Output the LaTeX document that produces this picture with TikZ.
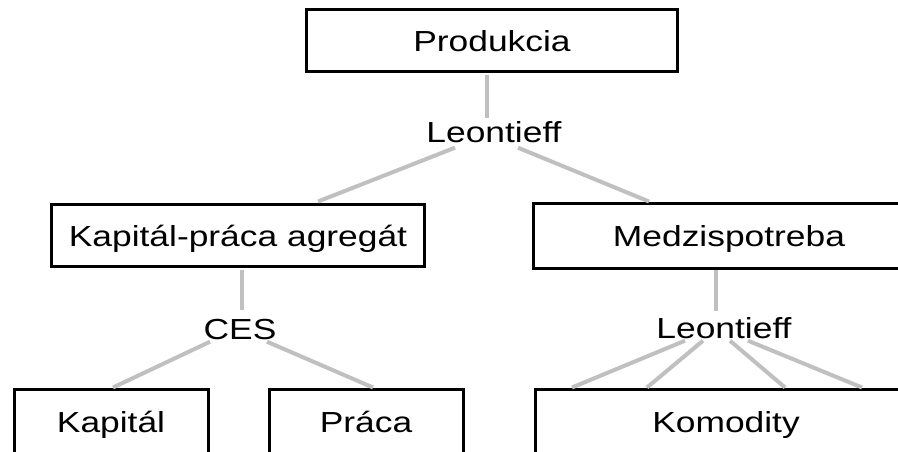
\documentclass[tikz,border=0pt]{standalone}
\usepackage{fontspec}
\setmainfont{Liberation Sans}[FakeStretch=1.22]
\usetikzlibrary{calc}
\definecolor{connc}{RGB}{192,192,192}
\tikzset{
  box/.style={draw=black, line width=3pt, fill=white, inner sep=0pt,
    minimum height=62pt, text height=21pt, text depth=0pt,
    font=\fontsize{29}{34}\selectfont},
  openbox/.style={box, draw=none},
  border/.style={draw=black, line width=3pt, line join=miter},
  lbl/.style={inner sep=0pt, text height=21pt, text depth=0pt,
    font=\fontsize{29}{34}\selectfont},
  conn/.style={draw=connc, line width=4pt}
}
\begin{document}
\begin{tikzpicture}[x=1pt,y=-1pt]
\useasboundingbox[fill=white] (0,0) rectangle (898,451);
\clip (0,0) rectangle (898,451);
\coordinate (R) at (899,0);
\coordinate (B) at (0,452);
% nodes
\node[box, minimum width=371pt] (prod) at (492,40.5) {Produkcia};
\node[lbl] (leo1) at (494,132) {Leontieff};
\node[box, minimum width=373pt] (kpa) at (238,235.5) {Kapitál-práca agregát};
\node[openbox, minimum width=389pt] (med) at (729,235.5) {Medzispotreba};
\node[lbl] (ces) at (240,329) {CES};
\node[lbl] (leo2) at (724,328) {Leontieff};
\node[openbox, minimum width=191pt] (kap) at (111,421.5) {Kapitál};
\node[openbox, minimum width=191pt] (prac) at (366,421.5) {Práca};
\node[openbox, minimum width=379pt] (kom) at (726,421.5) {Komodity};
% borders of boxes cut by the picture edge
\draw[border] (med.north west -| R) -- (med.north west) -- (med.south west) -- (med.south west -| R);
\draw[border] (kap.south west |- B) -- (kap.north west) -- (kap.north east) -- (kap.south east |- B);
\draw[border] (prac.south west |- B) -- (prac.north west) -- (prac.north east) -- (prac.south east |- B);
\draw[border] (kom.south west |- B) -- (kom.north west) -- (kom.north west -| R);
% connectors
\draw[conn] ($(prod.south)+(-5,1.5)$) -- ($(leo1.north)+(-7,-3)$);
\draw[conn] ($(leo1.south)+(-39,5)$) -- ($(kpa.north)+(80,-1.5)$);
\draw[conn] ($(leo1.south)+(24,5)$) -- ($(med.north)+(-80,-1.5)$);
\draw[conn] ($(kpa.south)+(4,1.5)$) -- ($(ces.north)+(2,-8)$);
\draw[conn] ($(ces.south)+(-30,2)$) -- ($(kap.north)+(2,-1.5)$);
\draw[conn] ($(ces.south)+(27,2)$) -- ($(prac.north)+(7,-1.5)$);
\draw[conn] ($(med.south)+(-13,1.5)$) -- ($(leo2.north)+(-8,-6)$);
\draw[conn] ($(leo2.south)+(-39,2)$) -- ($(kom.north)+(-154,-1.5)$);
\draw[conn] ($(leo2.south)+(-21,2)$) -- ($(kom.north)+(-79,-1.5)$);
\draw[conn] ($(leo2.south)+(6,2)$) -- ($(kom.north)+(59,-1.5)$);
\draw[conn] ($(leo2.south)+(24,2)$) -- ($(kom.north)+(136,-1.5)$);
\end{tikzpicture}
\end{document}
